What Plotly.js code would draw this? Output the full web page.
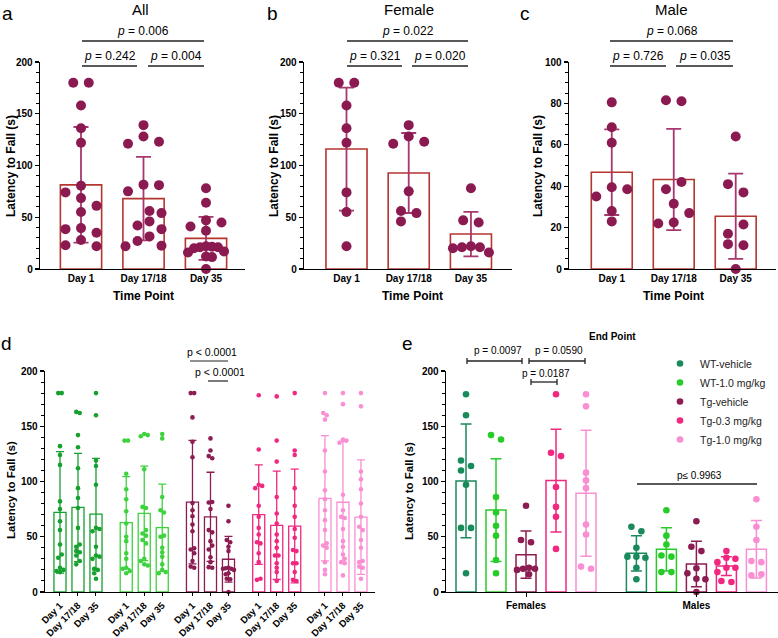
<!DOCTYPE html>
<html><head><meta charset="utf-8">
<script src="https://cdn.plot.ly/plotly-3.0.1.min.js"></script>
<style>html,body{margin:0;padding:0;background:#fff}#chart{width:778px;height:638px}</style>
</head><body><div id="chart"></div>
<script>
// ================= DATA =================
const days = ["Day 1", "Day 17/18", "Day 35"];

// Panels b (Female) and c (Male): latency to fall (s) per animal
const femaleDay1  = [180, 180, 158, 136, 122, 74, 55, 22];
const femaleDay17 = [139, 128, 123, 121, 75, 56, 54, 46];
const femaleDay35 = [78, 47, 45, 22, 21, 21, 20, 16];
const maleDay1  = [80.5, 68.5, 61, 39.5, 38.5, 35, 28, 23];
const maleDay17 = [81, 81.5, 42, 38.5, 31.5, 27, 22.5, 22];
const maleDay35 = [64, 41, 37, 21.5, 17, 12, 11.5, 0];

// Panel d: time course per treatment group (Day 1, Day 17/18, Day 35)
const groupNames = ["WT-vehicle", "WT-1.0 mg/kg", "Tg-vehicle", "Tg-0.3 mg/kg", "Tg-1.0 mg/kg"];
const dWTvehDay1  = [180, 180, 132, 124, 115, 82, 75, 64, 56, 43, 34, 31, 22, 20, 19, 18];
const dWTvehDay17 = [163, 162, 142, 131, 112, 94, 85, 76, 58, 43, 41, 37, 36, 33, 28, 25];
const dWTvehDay35 = [180, 160, 119, 114, 97, 58, 57, 55, 41, 33, 32, 30, 21, 20, 17, 12];
const dWT1Day1  = [137, 137, 107, 93, 84, 73, 62, 50, 46, 35, 30, 22, 21, 19, 17];
const dWT1Day17 = [143, 142, 141, 111, 77, 76, 56, 53, 51, 47, 44, 30, 28, 25, 24];
const dWT1Day35 = [143, 139, 86, 74, 72, 51, 50, 40, 36, 32, 25, 20, 18, 17];
const dTg03Day1  = [178, 129, 97, 96, 94, 78, 68, 58, 52, 45, 44, 35, 27, 12, 11];
const dTg03Day17 = [177, 137, 118, 86, 71, 62, 52, 46, 40, 33, 33, 26, 22, 18, 10];
const dTg03Day35 = [180, 128, 124, 94, 78, 68, 57, 49, 38, 37, 26, 26, 18, 11, 10];
const dTg1Day1  = [180, 162, 160, 156, 128, 109, 92, 84, 74, 65, 56, 44, 42, 40, 27, 20, 16];
const dTg1Day17 = [180, 170, 138, 137, 135, 88, 74, 68, 67, 57, 46, 41, 34, 30, 27, 26, 15];
const dTg1Day35 = [180, 168, 109, 102, 93, 80, 68, 59, 56, 47, 40, 28, 27, 23, 22, 12];
// bar means and SD
const dWTvehMean = [72, 76.5, 70.5],  dWTvehSD = [55, 49, 50.5];
const dWT1Mean   = [62.8, 71.2, 58.2], dWT1SD  = [41.6, 42.8, 39.5];
const dTg03Mean  = [70, 60.3, 59.7],  dTg03SD  = [45, 49, 51.5];
const dTg1Mean   = [84.8, 81.2, 67.8], dTg1SD  = [56.7, 55, 51.8];

// Panel e: End Point, females and males (Tg-vehicle = Day 35 values above)
const eFemWTveh = [179, 160, 119, 114, 110, 97, 58, 58, 17];
const eFemWT1   = [142, 138, 86, 72, 60, 51, 29, 17];
const eFemTg03  = [179, 126, 123, 95, 77, 68, 39];
const eFemTg1   = [179, 168, 108, 101, 94, 61, 52, 23, 21];
const eMaleWTveh = [59, 55, 40, 32, 32, 31, 22, 11.5];
const eMaleWT1   = [74, 51, 43, 33, 32, 18, 18];
const eMaleTg03  = [37, 31, 30, 27, 22, 22, 18, 10, 9];
const eMaleTg1   = [84, 59, 47, 28, 27, 16, 15];
const eFemMean  = [100.5, 74.2, 33.8, 100.8, 89.3];
const eFemSD    = [51.5, 46.5, 21.3, 46.4, 57];
const eMaleMean = [35, 38.6, 25.4, 23.5, 38.6];
const eMaleSD   = [16, 19.6, 20.6, 8.5, 26];
const sexLabels = ["Females", "Males"];

// ================= HELPERS =================
const W = 778, H = 638;
const FONT = "Arial, 'Liberation Sans', Helvetica, sans-serif";
const mean = a => a.reduce((s, v) => s + v, 0) / a.length;
const sd = a => { const m = mean(a); return Math.sqrt(a.reduce((s, v) => s + (v - m) * (v - m), 0) / (a.length - 1)); };

// deterministic beeswarm: returns x offsets in data units
function swarm(vals, geo) {
  const { pyu, dcoll, step, pxu, maxHalf } = geo;
  const idx = vals.map((v, i) => i).sort((a, b) => vals[b] - vals[a]);
  const k = new Array(vals.length).fill(0);
  const placed = [];
  let sign = 1;
  idx.forEach(i => {
    const y = vals[i] * pyu;
    const cands = [0];
    for (let m = 1; m < 12; m++) { cands.push(sign * m, -sign * m); }
    for (const c of cands) {
      if (!placed.some(p => p.k === c && Math.abs(p.y - y) < dcoll)) {
        k[i] = c; placed.push({ k: c, y });
        if (c !== 0) sign = -Math.sign(c);
        break;
      }
    }
  });
  const comps = []; let comp = []; let prev = null;
  idx.forEach(i => {
    const y = vals[i] * pyu;
    if (prev !== null && prev - y >= dcoll) { comps.push(comp); comp = []; }
    comp.push(i); prev = y;
  });
  comps.push(comp);
  const off = new Array(vals.length).fill(0);
  comps.forEach(c => {
    const ks = c.map(i => k[i]);
    const sh = (Math.min(...ks) + Math.max(...ks)) / 2;
    const half = (Math.max(...ks) - sh) * step;
    const f = half > maxHalf ? maxHalf / half : 1;
    c.forEach(i => { off[i] = (k[i] - sh) * step * f / pxu; });
  });
  return off;
}

const traces = [];
function dots(groups, xs, ax, color, size, geo, name, showlegend) {
  let X = [], Y = [];
  groups.forEach((vals, j) => {
    const off = swarm(vals, geo);
    vals.forEach((v, i) => { X.push(xs[j] + off[i]); Y.push(v); });
  });
  traces.push({ type: 'scatter', mode: 'markers', x: X, y: Y, xaxis: 'x' + ax, yaxis: 'y' + ax,
    marker: { color, size, line: { width: 0 } }, cliponaxis: false, hoverinfo: 'skip',
    name: name || '', showlegend: !!showlegend });
}
function bars(xs, means, sds, ax, lineColor, errColor, width, lw, capw, et) {
  traces.push({ type: 'bar', x: xs, y: means, xaxis: 'x' + ax, yaxis: 'y' + ax, width,
    marker: { color: 'rgba(255,255,255,0)', line: { color: lineColor, width: lw } },
    error_y: { type: 'data', array: sds, visible: true, color: errColor, thickness: et, width: capw },
    showlegend: false, hoverinfo: 'skip' });
}

// ================= PANELS a, b, c =================
const femaleByDay = [femaleDay1, femaleDay17, femaleDay35];
const maleByDay = [maleDay1, maleDay17, maleDay35];
const allByDay = femaleByDay.map((f, i) => f.concat(maleByDay[i]));
const ptColor = '#8b1a51', barLine = '#b5352f', errCol = '#a6386f';
const abc = [
  { ax: '', data: allByDay, pyu: 207 / 200, pxu: 62.5 },
  { ax: '2', data: femaleByDay, pyu: 207 / 200, pxu: 62.25 },
  { ax: '3', data: maleByDay, pyu: 207 / 100, pxu: 62 }
];
abc.forEach(p => {
  bars([0, 1, 2], p.data.map(mean), p.data.map(sd), p.ax, barLine, errCol, 0.66, 1.6, 7.5, 1.8);
  dots(p.data, [0, 1, 2], p.ax, ptColor, 10, { pyu: p.pyu, dcoll: 10, step: 15.5, pxu: p.pxu, maxHalf: 18 });
});

// ================= PANEL d =================
const dColors = ['#16a02e', '#3fd23f', '#8c1d52', '#f0287f', '#f98fd2'];
const dGroupGap = 3.68;
const dData = [[dWTvehDay1, dWTvehDay17, dWTvehDay35], [dWT1Day1, dWT1Day17, dWT1Day35], allByDay,
  [dTg03Day1, dTg03Day17, dTg03Day35], [dTg1Day1, dTg1Day17, dTg1Day35]];
const dMeans = [dWTvehMean, dWT1Mean, allByDay.map(mean), dTg03Mean, dTg1Mean];
const dSDs = [dWTvehSD, dWT1SD, allByDay.map(sd), dTg03SD, dTg1SD];
const dTickVals = [], dTickText = [];
dData.forEach((g, gi) => {
  const xs = [0, 1, 2].map(k => gi * dGroupGap + k);
  xs.forEach((x, k) => { dTickVals.push(x); dTickText.push(days[k]); });
  bars(xs, dMeans[gi], dSDs[gi], '4', dColors[gi], dColors[gi], 0.67, 1.3, 4, 1.3);
  dots(g, xs, '4', dColors[gi], 4.6, { pyu: 221 / 200, dcoll: 4.3, step: 3.5, pxu: 18, maxHalf: 5.5 });
});

// ================= PANEL e =================
const eColors = ['#188a5c', '#28cc28', '#8c1d52', '#f0287f', '#f98fd2'];
const eMaleOffset = 5.68;
const eFem = [eFemWTveh, eFemWT1, femaleDay35, eFemTg03, eFemTg1];
const eMale = [eMaleWTveh, eMaleWT1, maleDay35, eMaleTg03, eMaleTg1];
groupNames.forEach((nm, t) => {
  const xs = [t, t + eMaleOffset];
  bars(xs, [eFemMean[t], eMaleMean[t]], [eFemSD[t], eMaleSD[t]], '5', eColors[t], eColors[t], 0.667, 1.5, 5.5, 1.5);
});
groupNames.forEach((nm, t) => {
  const xs = [t, t + eMaleOffset];
  dots([eFem[t], eMale[t]], xs, '5', eColors[t], 6.6, { pyu: 221 / 200, dcoll: 6.3, step: 10, pxu: 30, maxHalf: 9 }, nm, true);
});

// ================= LAYOUT =================
const black = '#000';
function yax(pTop, pBot, xid, range, dtick, minor) {
  return { domain: [1 - pBot / H, 1 - pTop / H], anchor: xid, range, tickmode: 'linear', tick0: 0, dtick,
    showline: true, linecolor: black, linewidth: 1.3, ticks: 'outside', ticklen: 4, tickwidth: 1.2, tickcolor: black,
    minor: { dtick: minor, ticks: 'outside', ticklen: 2.5, tickwidth: 1, tickcolor: black },
    showgrid: false, zeroline: false, fixedrange: true,
    tickfont: { family: FONT, size: 10, weight: 'bold', color: black } };
}
function xax(pL, pR, yid, range, tickvals, ticktext, extra) {
  return Object.assign({ domain: [pL / W, pR / W], anchor: yid, range, tickmode: 'array', tickvals, ticktext,
    showline: true, linecolor: black, linewidth: 1.3, ticks: '', showgrid: false, zeroline: false, fixedrange: true,
    tickfont: { family: FONT, size: 10, weight: 'bold', color: black } }, extra || {});
}

const annotations = [];
function note(text, x, y, size, extra) {
  annotations.push(Object.assign({ text, x: x / W, y: 1 - y / H, xref: 'paper', yref: 'paper', showarrow: false,
    xanchor: 'center', yanchor: 'middle', font: { family: FONT, size, color: black } }, extra || {}));
}
const shapes = [];
function hline(x0, x1, y, w) {
  shapes.push({ type: 'line', xref: 'paper', yref: 'paper', x0: x0 / W, x1: x1 / W, y0: 1 - y / H, y1: 1 - y / H,
    line: { color: '#222', width: w || 1.3 } });
}
function vline(x, y0, y1) {
  shapes.push({ type: 'line', xref: 'paper', yref: 'paper', x0: x / W, x1: x / W, y0: 1 - y0 / H, y1: 1 - y1 / H,
    line: { color: '#222', width: 1.3 } });
}
function bracket(x0, x1, y) { hline(x0, x1, y); vline(x0, y - 3, y + 3); vline(x1, y - 3, y + 3); }

// panel letters and titles
note('a', 8, 13, 19); note('b', 272, 13, 19); note('c', 525, 13, 19);
note('d', 6, 343, 19); note('e', 407, 343, 19);
note('All', 140, 9, 15); note('Female', 409, 9, 15); note('Male', 671, 9, 15);
// axis titles
[[11, 166, 12], [274, 166, 12], [538, 166, 12], [11, 490, 11.5], [409, 491, 11.5]].forEach(t =>
  note('<b>Latency to Fall (s)</b>', t[0], t[1], t[2], { textangle: -90 }));
[143, 412, 673].forEach(x => note('<b>Time Point</b>', x, 296, 12));
note('<b>End Point</b>', 612, 336, 10);
// p-values panels a-c
const pFmt = v => '<i>p</i> = ' + v;
[[82, 137, 148, 204, ['0.006', '0.242', '0.004']],
 [347, 402, 412, 468, ['0.022', '0.321', '0.020']],
 [610, 666, 676, 733, ['0.068', '0.726', '0.035']]].forEach(r => {
  hline(r[0], r[3], 41); hline(r[0], r[1], 66); hline(r[2], r[3], 66);
  note(pFmt(r[4][0]), (r[0] + r[3]) / 2, 31, 12);
  note(pFmt(r[4][1]), (r[0] + r[1]) / 2, 56, 12);
  note(pFmt(r[4][2]), (r[2] + r[3]) / 2, 56, 12);
});
// panel d p-values
hline(190, 228, 361, 1.2); note('p &lt; 0.0001', 212, 352, 10.5);
hline(208, 228, 381, 1.2); note('p &lt; 0.0001', 220, 372, 10.5);
// panel e p-values
bracket(467, 522, 361); note('p = 0.0097', 498, 350, 10);
bracket(529, 585, 361); note('p = 0.0590', 559, 350, 10);
bracket(531, 557, 382); note('p = 0.0187', 546, 373, 10);
hline(637, 757, 484, 1.3); note('p\u2264 0.9963', 699, 475, 10);

const layout = {
  width: W, height: H, margin: { l: 0, r: 0, t: 0, b: 0 }, paper_bgcolor: '#fff', plot_bgcolor: 'rgba(0,0,0,0)',
  barmode: 'overlay', font: { family: FONT, color: black }, showlegend: true,
  xaxis: xax(40, 245, 'y', [-0.656, 2.624], [0, 1, 2], days),
  yaxis: yax(62, 269, 'x', [0, 200], 50, 10),
  xaxis2: xax(304, 512, 'y2', [-0.683, 2.66], [0, 1, 2], days),
  yaxis2: yax(62, 269, 'x2', [0, 200], 50, 10),
  xaxis3: xax(569, 776, 'y3', [-0.69, 2.65], [0, 1, 2], days),
  yaxis3: yax(62, 269, 'x3', [0, 100], 20, 5),
  xaxis4: xax(45, 375, 'y4', [-0.833, 17.5], dTickVals, dTickText,
    { tickangle: -45, ticks: 'outside', ticklen: 3, tickcolor: black, tickfont: { family: FONT, size: 9.5, weight: 'bold', color: black } }),
  yaxis4: yax(371, 592, 'x4', [0, 200], 50, 10),
  xaxis5: xax(446, 778, 'y5', [-0.667, 10.4], [2, 2 + eMaleOffset], sexLabels,
    { ticks: 'outside', ticklen: 4, tickcolor: black }),
  yaxis5: yax(371, 592, 'x5', [0, 200], 50, 10),
  legend: { x: 660 / W, y: 1 - 349 / H, xanchor: 'left', yanchor: 'top', bgcolor: 'rgba(0,0,0,0)',
    font: { family: FONT, size: 10.5, color: '#222' }, itemwidth: 30, tracegroupgap: 0 },
  annotations, shapes
};

Plotly.newPlot('chart', traces, layout, { staticPlot: true, displayModeBar: false });
</script>
</body></html>
